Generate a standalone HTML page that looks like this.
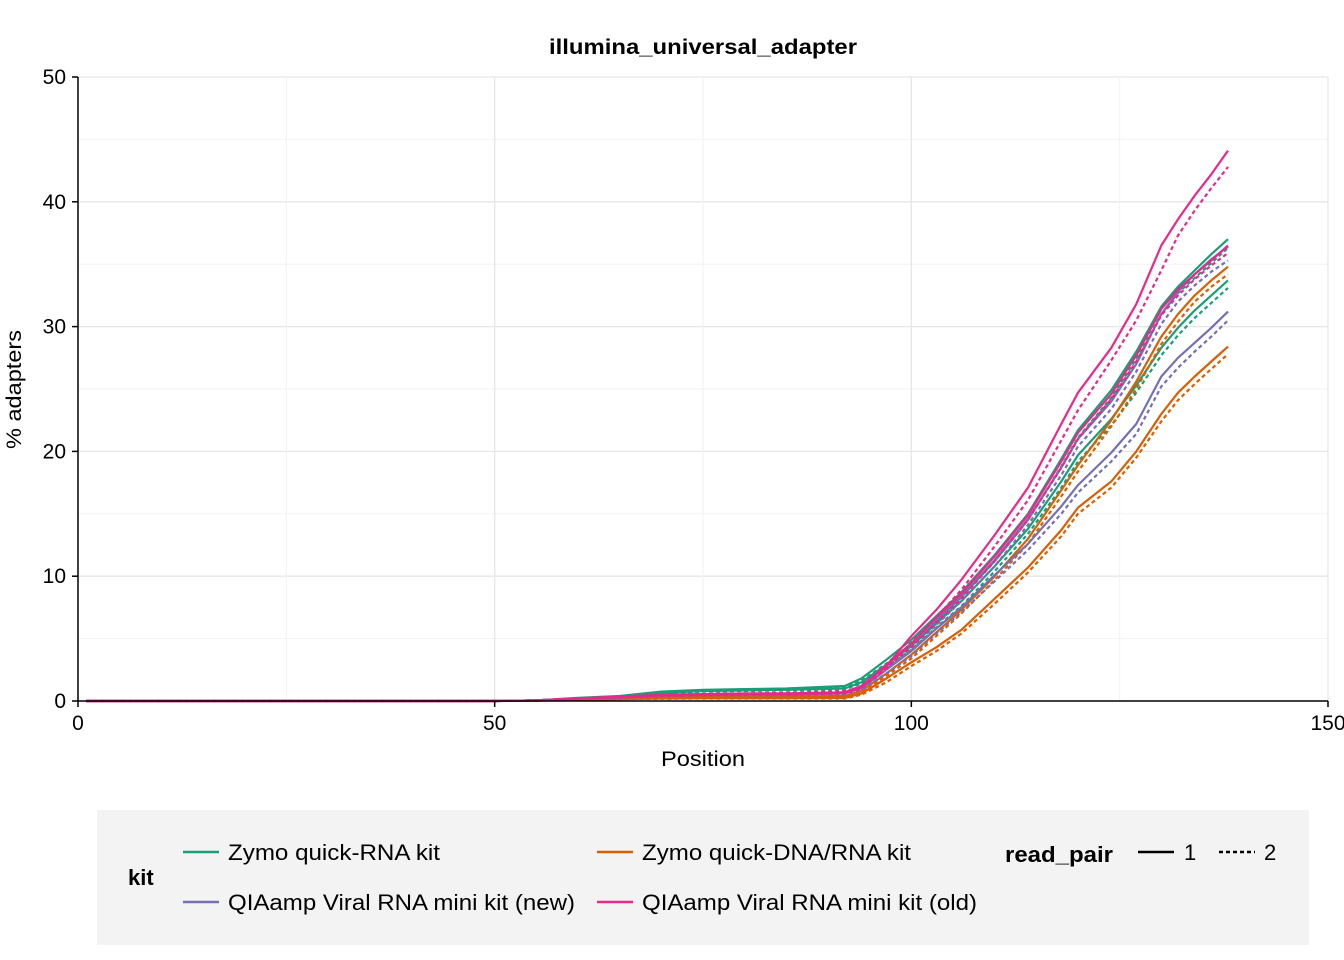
<!DOCTYPE html>
<html><head><meta charset="utf-8">
<style>
body{margin:0;background:#fff;}
svg{display:block;font-family:"Liberation Sans",Arial,sans-serif;}
</style></head>
<body>
<svg id="chart" width="1344" height="960" xmlns="http://www.w3.org/2000/svg">
<text x="549" y="54" font-size="21" font-weight="bold" textLength="308" lengthAdjust="spacingAndGlyphs">illumina_universal_adapter</text>
<g id="grid"></g>
<g id="lines"></g>
<g id="axes"></g>
<text x="661" y="766" font-size="21" textLength="84" lengthAdjust="spacingAndGlyphs">Position</text>
<text transform="translate(21,449) rotate(-90)" font-size="21" textLength="119" lengthAdjust="spacingAndGlyphs">% adapters</text>
<g>
<rect x="97" y="810" width="1212" height="135" fill="#f3f3f3"/>
<text x="128" y="885" font-size="22" font-weight="bold">kit</text>
<g><line x1="183" y1="852" x2="219" y2="852" stroke="#1b9e77" stroke-width="2.5"/><text x="228" y="860" font-size="22" textLength="212" lengthAdjust="spacingAndGlyphs">Zymo quick-RNA kit</text></g>
<g><line x1="597" y1="852" x2="633" y2="852" stroke="#d95f02" stroke-width="2.5"/><text x="642" y="860" font-size="22" textLength="269" lengthAdjust="spacingAndGlyphs">Zymo quick-DNA/RNA kit</text></g>
<g><line x1="183" y1="902" x2="219" y2="902" stroke="#7570b3" stroke-width="2.5"/><text x="228" y="910" font-size="22" textLength="347" lengthAdjust="spacingAndGlyphs">QIAamp Viral RNA mini kit (new)</text></g>
<g><line x1="597" y1="902" x2="633" y2="902" stroke="#e7298a" stroke-width="2.5"/><text x="642" y="910" font-size="22" textLength="335" lengthAdjust="spacingAndGlyphs">QIAamp Viral RNA mini kit (old)</text></g>
<text x="1005" y="862" font-size="22" font-weight="bold" textLength="108" lengthAdjust="spacingAndGlyphs">read_pair</text>
<g><line x1="1138" y1="852" x2="1174" y2="852" stroke="#000" stroke-width="2.5"/><text x="1184" y="860" font-size="22">1</text></g>
<g><line x1="1219" y1="852" x2="1255" y2="852" stroke="#000" stroke-width="2.5" stroke-dasharray="4,3"/><text x="1264" y="860" font-size="22">2</text></g>
</g>
</svg>
<script>
const positions = [1,50,55,60,65,70,75,80,85,92,94,97,100,103,106,110,114,118,120,124,127,130,132,134,136,138];
const xTicks = [0,50,100,150];
const yTicks = [0,10,20,30,40,50];
const greenA1 = [0,0,0.05,0.25,0.4,0.75,0.9,0.95,1.0,1.2,1.8,3.3,4.9,6.8,8.7,11.7,15.0,19.4,21.7,24.9,28.0,31.6,33.2,34.5,35.8,37.0];
const greenA2 = [0,0,0.05,0.22,0.38,0.7,0.85,0.9,0.95,1.1,1.6,3.0,4.6,6.4,8.3,11.2,14.5,18.8,21.1,24.3,27.4,31.0,32.7,33.9,35.1,36.3];
const greenB1 = [0,0,0.05,0.2,0.35,0.65,0.8,0.85,0.9,1.0,1.5,2.9,4.4,6.2,8.0,10.8,13.8,17.6,19.7,22.6,25.3,28.3,29.9,31.3,32.5,33.7];
const greenB2 = [0,0,0.05,0.2,0.33,0.6,0.75,0.8,0.85,0.95,1.4,2.7,4.1,5.9,7.6,10.4,13.4,17.1,19.2,22.1,24.7,27.7,29.3,30.7,31.9,33.1];
const purpleA1 = [0,0,0.05,0.2,0.3,0.5,0.55,0.6,0.6,0.7,1.2,2.9,4.6,6.5,8.4,11.3,14.6,18.7,21.0,24.0,27.0,31.0,32.8,34.2,35.4,36.4];
const purpleA2 = [0,0,0.05,0.2,0.3,0.45,0.5,0.55,0.55,0.65,1.0,2.6,4.2,6.1,8.0,10.8,14.1,18.1,20.4,23.4,26.4,30.2,32.0,33.3,34.4,35.3];
const purpleB1 = [0,0,0.05,0.18,0.28,0.45,0.5,0.5,0.5,0.6,1.0,2.5,4.0,5.8,7.5,10.1,12.6,15.6,17.3,19.9,22.2,26.0,27.5,28.7,29.9,31.2];
const purpleB2 = [0,0,0.05,0.18,0.26,0.4,0.45,0.45,0.45,0.55,0.9,2.2,3.6,5.4,7.1,9.6,12.1,15.0,16.7,19.2,21.4,25.2,26.7,28.0,29.2,30.5];
const orangeA1 = [0,0,0.03,0.12,0.2,0.3,0.35,0.35,0.35,0.4,0.8,2.2,3.7,5.5,7.3,10.0,13.0,16.9,18.9,22.5,25.6,29.2,31.0,32.5,33.7,34.8];
const orangeA2 = [0,0,0.03,0.12,0.2,0.28,0.3,0.3,0.3,0.35,0.7,2.0,3.4,5.2,7.0,9.7,12.6,16.4,18.4,22.0,25.0,28.6,30.4,32.0,33.2,34.2];
const orangeB1 = [0,0,0.03,0.1,0.15,0.2,0.22,0.22,0.22,0.25,0.6,1.8,3.1,4.3,5.7,8.2,10.7,13.7,15.5,17.6,20.0,23.0,24.7,26.0,27.2,28.4];
const orangeB2 = [0,0,0.03,0.1,0.15,0.18,0.2,0.2,0.2,0.2,0.5,1.5,2.8,4.0,5.4,7.8,10.3,13.2,15.0,17.1,19.5,22.4,24.1,25.4,26.6,27.8];
const pinkA1 = [0,0,0.05,0.2,0.35,0.5,0.55,0.6,0.6,0.7,1.2,2.8,5.2,7.3,9.7,13.3,17.1,22.2,24.7,28.3,31.8,36.5,38.6,40.5,42.2,44.1];
const pinkA2 = [0,0,0.05,0.2,0.35,0.5,0.55,0.6,0.65,0.8,1.1,2.6,4.7,6.7,8.9,12.4,16.1,20.9,23.3,27.3,30.5,34.5,37.3,39.3,41.1,42.8];
const pinkB1 = [0,0,0.05,0.2,0.3,0.45,0.5,0.55,0.55,0.65,1.1,2.9,4.6,6.7,8.6,11.6,14.9,19.2,21.5,24.6,27.7,31.4,33.0,34.2,35.3,36.5];
const pinkB2 = [0,0,0.05,0.2,0.3,0.4,0.45,0.5,0.5,0.6,1.0,2.7,4.3,6.3,8.2,11.2,14.5,18.7,21.0,24.2,27.2,30.9,32.5,33.8,34.9,35.9];

const X0=78,X1=1328,Y0=701,Y1=77;
function sx(v){return X0+(v-0)/(150-0)*(X1-X0);}
function sy(v){return Y0-(v-0)/(50-0)*(Y0-Y1);}
const NS="http://www.w3.org/2000/svg";
function mk(tag,attrs,parent){const e=document.createElementNS(NS,tag);for(const k in attrs)e.setAttribute(k,attrs[k]);parent.appendChild(e);return e;}

const grid=document.getElementById('grid');
for(let v=5;v<=50;v+=5){
  const l=mk('line',{x1:X0,x2:X1,y1:sy(v),y2:sy(v),stroke:v%10?'#f2f2f2':'#e6e6e6','stroke-width':v%10?1:1.3},grid);
  
  
}
for(let v=25;v<=150;v+=25){
  const l=mk('line',{x1:sx(v),x2:sx(v),y1:Y1,y2:Y0,stroke:v%50?'#f2f2f2':'#e6e6e6','stroke-width':v%50?1:1.3},grid);
  
  
}

const series=[
 [greenA1,'#1b9e77',0],[greenA2,'#1b9e77',1],[greenB1,'#1b9e77',0],[greenB2,'#1b9e77',1],
 [orangeA1,'#d95f02',0],[orangeA2,'#d95f02',1],[orangeB1,'#d95f02',0],[orangeB2,'#d95f02',1],
 [purpleA1,'#7570b3',0],[purpleA2,'#7570b3',1],[purpleB1,'#7570b3',0],[purpleB2,'#7570b3',1],
 [pinkA1,'#e7298a',0],[pinkA2,'#e7298a',1],[pinkB1,'#e7298a',0],[pinkB2,'#e7298a',1]
];
const lines=document.getElementById('lines');
series.forEach(s=>{
  const d=s[0].map((v,i)=>(i?'L':'M')+sx(positions[i]).toFixed(1)+','+sy(v).toFixed(1)).join(' ');
  const p=mk('path',{d:d,fill:'none',stroke:s[1],'stroke-width':2.2,'stroke-linejoin':'round'},lines);
  if(s[2])p.setAttribute('stroke-dasharray','4,3');
  
  
});

const axes=document.getElementById('axes');
mk('line',{x1:X0,x2:X1,y1:Y0,y2:Y0,stroke:'#000','stroke-width':1.5},axes);
mk('line',{x1:X0,x2:X0,y1:Y1,y2:Y0,stroke:'#000','stroke-width':1.5},axes);
xTicks.forEach(v=>{
  mk('line',{x1:sx(v),x2:sx(v),y1:Y0,y2:Y0+6,stroke:'#000','stroke-width':1.5},axes);
  const t=mk('text',{x:sx(v),y:Y0+29,'text-anchor':'middle','font-size':21},axes);
  t.textContent=v;
  
  
});
yTicks.forEach(v=>{
  mk('line',{x1:X0-6,x2:X0,y1:sy(v),y2:sy(v),stroke:'#000','stroke-width':1.5},axes);
  const t=mk('text',{x:X0-12,y:sy(v)+7,'text-anchor':'end','font-size':21},axes);
  t.textContent=v;
  
  
});
</script>
</body></html>
